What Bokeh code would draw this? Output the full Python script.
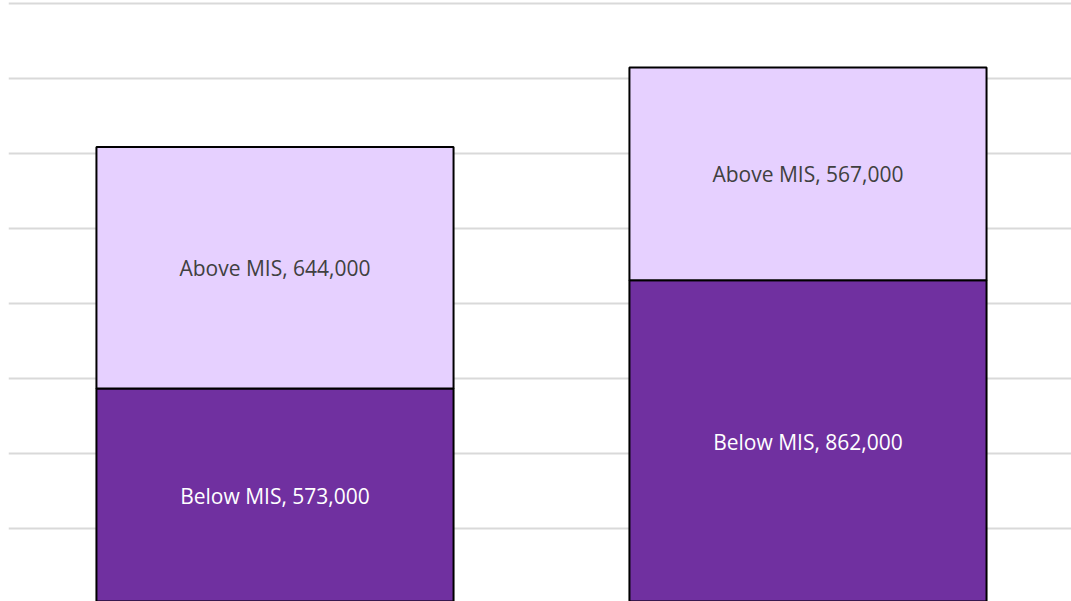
from bokeh.plotting import figure
from bokeh.models import ColumnDataSource, FixedTicker, Range1d
from bokeh.core.properties import value
from bokeh.embed import file_html
from bokeh.resources import INLINE

categories = ["Group 1", "Group 2"]
below_mis = [573000, 862000]
above_mis = [644000, 567000]
series_names = ["Below MIS", "Above MIS"]
colors = ["#7030a0", "#e6d0ff"]
text_colors = ["#ffffff", "#404040"]
grid_ticks = [0, 200000, 400000, 600000, 800000, 1000000, 1200000, 1400000, 1600000]

x = list(range(len(categories)))
src = ColumnDataSource(dict(x=x, cat=categories, below=below_mis, above=above_mis))

p = figure(width=1071, height=601, output_backend="svg", toolbar_location=None,
           x_range=Range1d(-0.5, 1.4944), y_range=Range1d(5333, 1608000),
           min_border=0, min_border_left=8, outline_line_color=None)
p.vbar_stack(["below", "above"], x="x", width=0.67, source=src, color=colors,
             line_color="black", line_width=2)

p.xaxis.visible = False
p.yaxis.visible = False
p.xgrid.grid_line_color = None
p.yaxis.ticker = FixedTicker(ticks=grid_ticks)
p.ygrid.ticker = FixedTicker(ticks=grid_ticks)
p.ygrid.grid_line_color = "#d9d9d9"
p.ygrid.grid_line_width = 2

lx, ly, lt, lc = [], [], [], []
for i in range(len(categories)):
    lx.append(x[i]); ly.append(below_mis[i] / 2)
    lt.append(f"{series_names[0]}, {below_mis[i]:,}"); lc.append(text_colors[0])
    lx.append(x[i]); ly.append(below_mis[i] + above_mis[i] / 2)
    lt.append(f"{series_names[1]}, {above_mis[i]:,}"); lc.append(text_colors[1])
lsrc = ColumnDataSource(dict(x=lx, y=ly, t=lt, c=lc))
p.text(x="x", y="y", text="t", source=lsrc, text_color="c",
       text_font=value("Open Sans"), text_font_size="21px",
       text_align="center", text_baseline="middle")

open("out.html", "w").write(file_html(p, INLINE))
